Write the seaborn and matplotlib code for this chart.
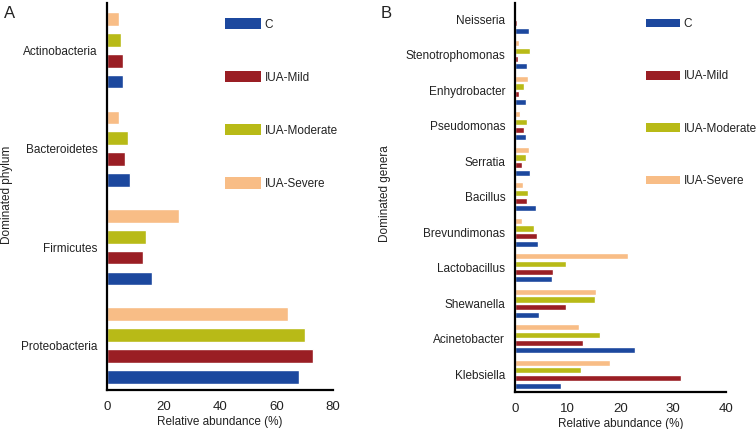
import pandas as pd
import numpy as np
import matplotlib
matplotlib.use('Agg')
import matplotlib.pyplot as plt
import seaborn as sns
from matplotlib.patches import Patch

# Dados
grupos = ['C', 'IUA-Mild', 'IUA-Moderate', 'IUA-Severe']
cores = ['#1c489e', '#9a1e24', '#b8ba17', '#f8bd86']

filos = ['Actinobacteria', 'Bacteroidetes', 'Firmicutes', 'Proteobacteria']
filo_C = [5.8, 8.3, 15.9, 68.0]
filo_mild = [5.5, 6.5, 12.9, 73.0]
filo_moderate = [5.0, 7.5, 13.9, 70.0]
filo_severe = [4.4, 4.2, 25.5, 64.2]

generos = ['Neisseria', 'Stenotrophomonas', 'Enhydrobacter', 'Pseudomonas',
           'Serratia', 'Bacillus', 'Brevundimonas', 'Lactobacillus',
           'Shewanella', 'Acinetobacter', 'Klebsiella']
gen_C = [2.7, 2.2, 2.1, 2.0, 2.9, 3.9, 4.3, 7.0, 4.6, 22.7, 8.7]
gen_mild = [0.4, 0.5, 0.7, 1.7, 1.3, 2.2, 4.1, 7.2, 9.6, 12.8, 31.4]
gen_moderate = [0.0, 2.9, 1.7, 2.2, 2.0, 2.4, 3.6, 9.6, 15.2, 16.2, 12.5]
gen_severe = [0.0, 0.8, 2.4, 0.9, 2.7, 1.5, 1.3, 21.5, 15.4, 12.1, 18.0]


def tabela(cats, valores):
    linhas = []
    for g, vals in zip(grupos, valores):
        for c, v in zip(cats, vals):
            linhas.append({'cat': c, 'grupo': g, 'valor': v})
    return pd.DataFrame(linhas)


df_a = tabela(filos, [filo_C, filo_mild, filo_moderate, filo_severe])
df_b = tabela(generos, [gen_C, gen_mild, gen_moderate, gen_severe])

sns.set_style('white')
plt.rcParams['font.family'] = ['Liberation Sans', 'DejaVu Sans']
plt.rcParams['font.size'] = 8.5
texto = '#222222'

fig = plt.figure(figsize=(7.56, 4.29), dpi=100)
ax_a = fig.add_axes([107 / 756, 1 - 390 / 429, 226 / 756, 387 / 429])
ax_b = fig.add_axes([515 / 756, 1 - 392 / 429, 211 / 756, 389 / 429])

# ordem invertida: C fica embaixo em cada grupo
ordem_hue = grupos[::-1]
paleta = dict(zip(grupos, cores))

sns.barplot(data=df_a, y='cat', x='valor', hue='grupo', hue_order=ordem_hue,
            palette=paleta, orient='h', width=0.85, gap=0.35, ax=ax_a,
            legend=False, saturation=1)
sns.barplot(data=df_b, y='cat', x='valor', hue='grupo', hue_order=ordem_hue,
            palette=paleta, orient='h', width=0.86, gap=0.2, ax=ax_b,
            legend=False, saturation=1)

ax_a.set_xlim(0, 80)
ax_a.set_xticks([0, 20, 40, 60, 80])
ax_a.set_ylim(3.45, -0.48)
ax_b.set_xlim(0, 40)
ax_b.set_xticks([0, 10, 20, 30, 40])
ax_b.set_ylim(10.5, -0.46)

for ax in [ax_a, ax_b]:
    sns.despine(ax=ax)
    ax.spines['left'].set_linewidth(1.6)
    ax.spines['bottom'].set_linewidth(1.6)
    ax.spines['left'].set_color('black')
    ax.spines['bottom'].set_color('black')
    ax.tick_params(axis='both', direction='out', length=5, width=1.6,
                   colors='black', labelcolor=texto, pad=2)
    ax.tick_params(axis='y', labelsize=8.5)
    ax.tick_params(axis='x', labelsize=9.5, pad=3)
    ax.set_xlabel('Relative abundance (%)', color=texto, fontsize=8.5, labelpad=2)
    ax.set_ylabel('')
    ax.grid(False)

fig.text(7 / 756, 1 - 195 / 429, 'Dominated phylum', rotation=90, va='center',
         ha='center', color=texto, fontsize=8.5)
fig.text(385 / 756, 1 - 194 / 429, 'Dominated genera', rotation=90, va='center',
         ha='center', color=texto, fontsize=8.5)

fig.text(4 / 756, 1 - 14 / 429, 'A', fontsize=12, color=texto, va='center')
fig.text(381 / 756, 1 - 14 / 429, 'B', fontsize=12, color=texto, va='center')

# legendas manuais
alcas = [Patch(facecolor=c, edgecolor='none') for c in cores]
leg_a = ax_a.legend(alcas, grupos, loc='upper left',
                    bbox_to_anchor=(225 / 756, 1 - 18 / 429),
                    bbox_transform=fig.transFigure, frameon=False,
                    handlelength=3.05, handleheight=1.1, labelspacing=3.42,
                    handletextpad=0.3, borderpad=0, borderaxespad=0,
                    fontsize=8.5)
for t in leg_a.get_texts():
    t.set_color(texto)
leg_b = ax_b.legend(alcas, grupos, loc='upper left',
                    bbox_to_anchor=(646 / 756, 1 - 18 / 429),
                    bbox_transform=fig.transFigure, frameon=False,
                    handlelength=2.9, handleheight=0.75, labelspacing=3.42,
                    handletextpad=0.3, borderpad=0, borderaxespad=0,
                    fontsize=8.5)
for t in leg_b.get_texts():
    t.set_color(texto)

fig.savefig('out.png', dpi=100)
plt.close()
